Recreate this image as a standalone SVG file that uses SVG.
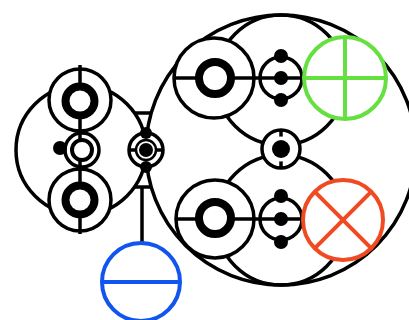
<svg xmlns="http://www.w3.org/2000/svg" width="409" height="320" viewBox="0 0 409 320">
<style>
.k{fill:none;stroke:#000;stroke-width:3.5}
.w{fill:#fff;stroke:#000;stroke-width:3.5}
.thick{fill:#fff;stroke:#000;stroke-width:8}
.dot{fill:#000;stroke:none}
.g{fill:none;stroke:#66e040;stroke-width:4}
.r{fill:none;stroke:#f04a22;stroke-width:4}
.b{fill:none;stroke:#1155ee;stroke-width:4}
</style>
<rect width="409" height="320" fill="#fff"/>
<g id="connectors">
<circle class="k" cx="81" cy="150" r="65"/>
<circle class="k" cx="281" cy="150" r="135"/>
<circle class="k" cx="281" cy="80" r="65"/>
<circle class="k" cx="281" cy="220" r="65"/>
<line class="k" x1="134" y1="113" x2="152" y2="113"/>
<line class="k" x1="134" y1="187" x2="152" y2="187"/>
<line class="k" x1="142" y1="187" x2="142" y2="244"/>
</g>
<g id="word-left">
<circle class="w" cx="80" cy="100" r="31"/>
<circle class="w" cx="80" cy="200" r="31"/>
<circle class="w" cx="82" cy="150" r="17"/>
<line class="k" x1="80" y1="65" x2="80" y2="234"/>
<circle class="thick" cx="80" cy="101" r="14.5"/>
<circle class="thick" cx="80" cy="200" r="14.5"/>
<circle fill="#fff" stroke="#000" stroke-width="4" cx="82" cy="150" r="10"/>
<circle class="dot" cx="60" cy="148" r="7"/>
</g>
<g id="node-left">
<circle class="w" cx="146" cy="150" r="17"/>
<line class="k" x1="129" y1="150" x2="163" y2="150"/>
<circle fill="#fff" stroke="#000" stroke-width="2.5" cx="146" cy="150" r="10"/>
<circle class="dot" cx="146" cy="150" r="7"/>
<circle class="dot" cx="146" cy="133" r="6"/>
<circle class="dot" cx="146" cy="167" r="6"/>
</g>
<g id="node-center">
<circle class="w" cx="281" cy="149" r="19"/>
<line class="k" x1="281" y1="130" x2="281" y2="168"/>
<circle fill="#fff" cx="281" cy="149" r="12.5"/>
<circle class="dot" cx="281" cy="149" r="9"/>
</g>
<g id="word-upper">
<circle class="w" cx="214" cy="78" r="40"/>
<circle class="w" cx="281" cy="78" r="21"/>
<line class="k" x1="174" y1="78" x2="304" y2="78"/>
<circle class="thick" cx="215" cy="78" r="16"/>
<circle class="dot" cx="281" cy="56" r="7"/>
<circle class="dot" cx="281" cy="78" r="7"/>
<circle class="dot" cx="281" cy="100" r="7"/>
</g>
<g id="green">
<circle fill="#fff" stroke="#66e040" stroke-width="4" cx="345" cy="78" r="41"/>
<line class="g" x1="345" y1="37" x2="345" y2="119"/>
<line class="g" x1="304" y1="78" x2="386" y2="78"/>
</g>
<g id="word-lower">
<circle class="w" cx="215" cy="219" r="39"/>
<circle class="w" cx="281" cy="219" r="21"/>
<line class="k" x1="176" y1="219" x2="303" y2="219"/>
<circle class="thick" cx="215" cy="218" r="16"/>
<circle class="dot" cx="281" cy="196" r="7"/>
<circle class="dot" cx="281" cy="219" r="7"/>
<circle class="dot" cx="281" cy="242" r="7"/>
</g>
<g id="red">
<circle fill="#fff" stroke="#f04a22" stroke-width="4" cx="343" cy="220" r="40"/>
<line class="r" x1="314.7" y1="191.7" x2="371.3" y2="248.3"/>
<line class="r" x1="371.3" y1="191.7" x2="314.7" y2="248.3"/>
</g>
<g id="blue">
<circle fill="#fff" stroke="#1155ee" stroke-width="4" cx="141" cy="282" r="39"/>
<line class="b" x1="102" y1="282" x2="180" y2="282"/>
</g>
</svg>
